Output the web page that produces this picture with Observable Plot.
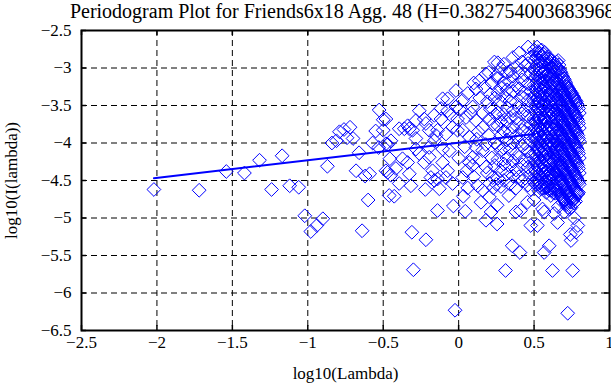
<!DOCTYPE html>
<html>
<head>
<meta charset="utf-8">
<script src="https://cdn.jsdelivr.net/npm/d3@7"></script>
<script src="https://cdn.jsdelivr.net/npm/@observablehq/plot@0.6"></script>
<style>
html, body { margin: 0; padding: 0; background: #fff; overflow: hidden; }
#chart { width: 611px; height: 385px; }
#chart svg, #chart svg text { font-family: "Liberation Serif", "Times New Roman", "DejaVu Serif", serif !important; }
</style>
</head>
<body>
<div id="chart"></div>
<script>
const titleText = "Periodogram Plot for Friends6x18 Agg. 48 (H=0.382754003683968)";
const xLabel = "log10(Lambda)";
const yLabel = "log10(I(lambda))";
const xTicks = [-2.5, -2, -1.5, -1, -0.5, 0, 0.5, 1];
const yTicks = [-6.5, -6, -5.5, -5, -4.5, -4, -3.5, -3, -2.5];

// Low-frequency points (read individually)
const lowX = [-2.02, -1.72, -1.54, -1.42, -1.32, -1.24, -1.17, -1.12, -1.06, -1.02, -0.98, -0.94, -0.90, -0.87, -0.84, -0.81, -0.79, -0.76, -0.74, -0.72, -0.70, -0.68, -0.66, -0.64, -0.62, -0.60, -0.59, -0.57, -0.55, -0.53, -0.50, -0.50, -0.47, -0.47, -0.46];
const lowY = [-4.62, -4.63, -4.38, -4.40, -4.23, -4.62, -4.17, -4.57, -4.59, -4.97, -5.18, -5.10, -5.01, -4.31, -4.00, -3.97, -3.85, -3.82, -3.93, -3.79, -3.94, -4.37, -4.13, -5.17, -4.44, -4.76, -4.41, -4.00, -3.84, -4.06, -3.69, -3.83, -4.02, -4.39, -4.70];

// Middle-frequency points (read individually)
const midX = [-0.527, -0.482, -0.482, -0.449, -0.456, -0.45, -0.427, -0.394, -0.372, -0.36, -0.327, -0.327, -0.316, -0.31, -0.30, -0.283, -0.283, -0.261, -0.261, -0.228, -0.221, -0.217, -0.195, -0.195, -0.184, -0.161, -0.14, -0.14, -0.14, -0.128, -0.117, -0.106, -0.106, -0.106, -0.084, -0.073, -0.073, -0.062, -0.04, -0.04, -0.035, -0.024, -0.018, -0.007,
  -0.394, -0.338, -0.305, -0.217, -0.195, -0.161, -0.117, -0.073, -0.051, -0.007, -0.018, -0.15, -0.283, -0.338, -0.228, -0.416, -0.482, -0.173, -0.084, -0.161,
  0.137, 0.181, 0.2, 0.237, 0.115, 0.06, 0.027, 0.093, 0.049, 0.115, 0.159, 0.204, 0.027, 0.071, 0.115, 0.159, 0.093, 0.071, 0.181, 0.226, 0.204, 0.159, 0.204, 0.027, 0.031, 0.044, 0.126, 0.148, 0.181, 0.215, 0.053, 0.093,
  0.17, 0.22, 0.24, 0.19, 0.14, 0.21, 0.16, 0.23, 0.13, 0.2, 0.24, 0.18, 0.22, 0.14, 0.1, 0.24, 0.005, 0.08, 0.04, 0.0, 0.12, 0.19, 0.23, 0.06, 0.25, 0.245, 0.21, 0.1];
const midY = [-3.56, -3.68, -4.01, -3.97, -4.21, -4.43, -4.71, -4.54, -4.21, -3.81, -3.81, -4.41, -4.57, -5.19, -5.69, -3.94, -3.70, -3.57, -4.14, -3.68, -4.62, -5.29, -4.19, -4.06, -4.46, -3.97, -3.83, -4.48, -4.90, -4.61, -3.68, -3.41, -4.08, -4.26, -3.88, -3.41, -4.37, -4.10, -3.79, -4.54, -4.84, -6.23, -3.30, -3.83,
  -3.81, -3.77, -3.83, -3.74, -3.83, -3.63, -3.54, -3.57, -3.63, -3.68, -3.52, -3.90, -4.08, -4.26, -4.26, -4.34, -4.37, -4.37, -4.46, -4.50,
  -3.17, -3.08, -3.06, -2.92, -3.28, -3.34, -3.43, -3.52, -3.66, -3.70, -3.79, -3.68, -3.83, -3.92, -4.06, -4.10, -4.19, -4.26, -4.32, -4.46, -4.54, -4.63, -4.72, -4.46, -4.71, -4.91, -4.57, -4.79, -5.03, -4.92, -4.37, -4.30,
  -3.25, -3.20, -3.40, -3.45, -3.40, -3.55, -3.60, -3.75, -3.85, -3.90, -4.00, -4.02, -4.20, -4.22, -4.45, -4.30, -3.55, -3.60, -4.05, -4.20, -3.95, -4.40, -4.60, -4.60, -3.10, -3.62, -3.35, -3.20];

// High-frequency band, read column by column
const bandX = [0.26, 0.28, 0.30, 0.32, 0.34, 0.36, 0.38, 0.40, 0.42, 0.44, 0.46, 0.48, 0.50, 0.51, 0.52, 0.53, 0.54, 0.55, 0.56, 0.57, 0.58, 0.59, 0.60, 0.61, 0.62, 0.63, 0.64, 0.65, 0.66, 0.67, 0.68, 0.69, 0.70, 0.71, 0.72, 0.73, 0.74, 0.75, 0.76, 0.77, 0.78, 0.79, 0.80];
const bandY = [
  [-2.93, -3.14, -3.33, -3.60, -3.77, -4.03, -4.22, -4.47],
  [-3.01, -3.26, -3.45, -3.71, -3.90, -4.10, -4.37, -4.58],
  [-2.95, -3.20, -3.38, -3.62, -3.84, -4.07, -4.28, -4.50],
  [-3.06, -3.29, -3.53, -3.72, -3.96, -4.20, -4.41],
  [-3.04, -3.18, -3.44, -3.66, -3.87, -4.09, -4.31, -4.55],
  [-2.86, -3.11, -3.31, -3.57, -3.79, -4.00, -4.24, -4.44],
  [-2.98, -3.23, -3.46, -3.67, -3.91, -4.14, -4.36, -4.60],
  [-2.80, -3.06, -3.28, -3.53, -3.74, -3.98, -4.19, -4.45],
  [-2.92, -3.16, -3.39, -3.61, -3.83, -4.04, -4.29, -4.51],
  [-2.97, -3.09, -3.33, -3.56, -3.78, -4.01, -4.23, -4.47],
  [-2.72, -2.94, -3.21, -3.43, -3.64, -3.87, -4.11, -4.32, -4.56],
  [-2.85, -3.07, -3.31, -3.51, -3.75, -3.97, -4.17, -4.41, -4.62],
  [-2.76, -3.01, -3.23, -3.44, -3.68, -3.89, -4.13, -4.34, -4.52],
  [-2.81, -3.04, -3.27, -3.49, -3.71, -3.93, -4.14, -4.37, -4.55],
  [-2.72, -2.97, -3.19, -3.41, -3.61, -3.84, -4.06, -4.27, -4.49],
  [-2.90, -3.13, -3.34, -3.54, -3.78, -3.99, -4.21, -4.43, -4.64],
  [-2.82, -3.05, -3.28, -3.47, -3.69, -3.91, -4.11, -4.34, -4.57],
  [-2.76, -2.99, -3.21, -3.42, -3.63, -3.83, -4.04, -4.26, -4.47],
  [-2.92, -3.15, -3.36, -3.56, -3.76, -3.97, -4.19, -4.41, -4.60],
  [-2.79, -3.03, -3.25, -3.45, -3.66, -3.87, -4.09, -4.30, -4.53],
  [-2.95, -3.17, -3.38, -3.59, -3.81, -4.02, -4.23, -4.44, -4.66],
  [-2.85, -3.08, -3.29, -3.50, -3.71, -3.93, -4.14, -4.36, -4.57],
  [-2.88, -3.11, -3.33, -3.55, -3.76, -3.97, -4.19, -4.42, -4.63],
  [-2.99, -3.22, -3.43, -3.64, -3.85, -4.06, -4.27, -4.48],
  [-2.90, -3.10, -3.31, -3.52, -3.72, -3.92, -4.13, -4.35, -4.56],
  [-2.98, -3.19, -3.40, -3.61, -3.81, -4.01, -4.21, -4.41, -4.62],
  [-3.05, -3.26, -3.46, -3.67, -3.87, -4.07, -4.26, -4.47, -4.67],
  [-2.92, -3.14, -3.35, -3.55, -3.75, -3.96, -4.16, -4.36, -4.58],
  [-2.90, -3.10, -3.30, -3.51, -3.71, -3.90, -4.11, -4.31, -4.53],
  [-3.02, -3.22, -3.42, -3.62, -3.83, -4.03, -4.23, -4.43, -4.64],
  [-3.07, -3.28, -3.48, -3.68, -3.88, -4.08, -4.29, -4.50, -4.71],
  [-3.12, -3.32, -3.52, -3.72, -3.93, -4.13, -4.33, -4.53, -4.74],
  [-3.15, -3.35, -3.55, -3.75, -3.95, -4.16, -4.36, -4.56, -4.76],
  [-3.20, -3.40, -3.60, -3.80, -4.00, -4.20, -4.41, -4.61, -4.80],
  [-3.25, -3.45, -3.65, -3.85, -4.05, -4.25, -4.45, -4.66],
  [-3.28, -3.48, -3.69, -3.89, -4.09, -4.29, -4.49, -4.69],
  [-3.31, -3.51, -3.71, -3.91, -4.11, -4.31, -4.51, -4.72],
  [-3.34, -3.54, -3.74, -3.94, -4.14, -4.34, -4.54, -4.74],
  [-3.38, -3.58, -3.78, -3.98, -4.18, -4.38, -4.58, -4.76],
  [-3.42, -3.62, -3.82, -4.02, -4.22, -4.42, -4.62, -4.73],
  [-3.45, -3.65, -3.86, -4.06, -4.26, -4.46, -4.66],
  [-3.50, -3.70, -3.90, -4.10, -4.30, -4.50, -4.68],
  [-3.60, -3.80, -3.98, -4.20, -4.40, -4.55]
];

// High-frequency band, second pass (in between the columns above)
const band2X = [0.505, 0.515, 0.525, 0.535, 0.545, 0.555, 0.565, 0.575, 0.585, 0.595, 0.605, 0.615, 0.625, 0.635, 0.645, 0.655, 0.665, 0.675, 0.685, 0.695, 0.705, 0.715, 0.725, 0.735, 0.745, 0.755, 0.765, 0.775, 0.785, 0.795];
const band2Y = [
  [-2.90, -3.13, -3.36, -3.58, -3.80, -4.02, -4.25, -4.46],
  [-2.86, -3.09, -3.30, -3.52, -3.74, -3.96, -4.18, -4.40],
  [-2.78, -3.02, -3.24, -3.46, -3.67, -3.89, -4.10, -4.32, -4.55],
  [-2.80, -3.00, -3.22, -3.44, -3.66, -3.87, -4.08, -4.30, -4.52],
  [-2.93, -3.16, -3.38, -3.58, -3.80, -4.00, -4.22, -4.44],
  [-2.86, -3.08, -3.30, -3.51, -3.72, -3.93, -4.15, -4.37, -4.55],
  [-2.82, -3.05, -3.26, -3.47, -3.68, -3.88, -4.09, -4.31, -4.52],
  [-2.90, -3.12, -3.33, -3.54, -3.75, -3.96, -4.17, -4.39, -4.60],
  [-2.88, -3.10, -3.31, -3.52, -3.73, -3.94, -4.16, -4.38, -4.59],
  [-2.96, -3.19, -3.40, -3.61, -3.82, -4.03, -4.24, -4.46],
  [-2.92, -3.13, -3.35, -3.56, -3.77, -3.99, -4.20, -4.40, -4.61],
  [-2.95, -3.16, -3.37, -3.58, -3.79, -4.00, -4.21, -4.42, -4.63],
  [-3.00, -3.21, -3.42, -3.62, -3.82, -4.03, -4.24, -4.45, -4.66],
  [-2.94, -3.15, -3.36, -3.56, -3.76, -3.97, -4.17, -4.38, -4.60],
  [-2.98, -3.18, -3.38, -3.58, -3.78, -3.98, -4.19, -4.40, -4.62],
  [-3.00, -3.20, -3.40, -3.61, -3.81, -4.01, -4.21, -4.42, -4.63],
  [-2.96, -3.17, -3.37, -3.57, -3.77, -3.97, -4.17, -4.37, -4.59],
  [-3.05, -3.25, -3.45, -3.65, -3.86, -4.06, -4.26, -4.47, -4.68],
  [-3.10, -3.30, -3.50, -3.70, -3.90, -4.10, -4.31, -4.51, -4.72],
  [-3.14, -3.34, -3.54, -3.74, -3.94, -4.14, -4.35, -4.55, -4.75],
  [-3.18, -3.38, -3.58, -3.78, -3.98, -4.18, -4.38, -4.58, -4.78],
  [-3.23, -3.43, -3.63, -3.83, -4.03, -4.23, -4.43, -4.63, -4.82],
  [-3.27, -3.47, -3.67, -3.87, -4.07, -4.27, -4.47, -4.67, -4.86],
  [-3.30, -3.50, -3.70, -3.90, -4.10, -4.30, -4.50, -4.70, -4.88],
  [-3.33, -3.53, -3.73, -3.93, -4.13, -4.33, -4.53, -4.73, -4.86],
  [-3.37, -3.57, -3.77, -3.97, -4.17, -4.37, -4.57, -4.77],
  [-3.40, -3.60, -3.80, -4.00, -4.20, -4.40, -4.60, -4.80],
  [-3.44, -3.64, -3.84, -4.04, -4.24, -4.44, -4.64, -4.78],
  [-3.48, -3.68, -3.88, -4.08, -4.28, -4.48, -4.66],
  [-3.54, -3.74, -3.94, -4.14, -4.34, -4.52, -4.66]
];

// High-frequency low outliers
const outX = [0.255, 0.255, 0.311, 0.355, 0.406, 0.38, 0.41, 0.456, 0.478, 0.333, 0.5, 0.522, 0.556, 0.567, 0.634, 0.656, 0.7, 0.69, 0.745, 0.611, 0.545, 0.723, 0.567, 0.6, 0.622, 0.756, 0.723, 0.745, 0.74, 0.778, 0.79, 0.767, 0.62, 0.66, 0.25];
const outY = [-4.83, -5.08, -5.70, -5.37, -5.46, -4.92, -4.90, -4.79, -5.10, -4.70, -4.76, -5.10, -4.88, -4.92, -4.94, -5.06, -4.92, -4.79, -4.79, -4.70, -4.61, -4.70, -5.46, -5.37, -5.70, -5.70, -6.27, -5.30, -5.22, -5.19, -5.10, -5.00, -4.60, -4.85, -4.55];

// Least-squares fit line (slope = 1 - 2H)
const fitX = [-2.02, 0.5];
const fitY = [-4.47, -3.88];

const points = [];
lowX.forEach((x, i) => points.push({x, y: lowY[i]}));
midX.forEach((x, i) => points.push({x, y: midY[i]}));
bandX.forEach((x, i) => bandY[i].forEach(y => points.push({x, y})));
band2X.forEach((x, i) => band2Y[i].forEach(y => points.push({x, y})));
outX.forEach((x, i) => points.push({x, y: outY[i]}));
const fit = fitX.map((x, i) => ({x, y: fitY[i]}));

const W = 611, H = 385, mL = 81, mR = 2, mT = 30, mB = 55;
const innerW = W - mL - mR, innerH = H - mT - mB;
const tick = 5;
const serif = "Liberation Serif";
const fmt = d => String(d).replace("-", "\u2212");

const chart = Plot.plot({
  width: W, height: H,
  marginLeft: mL, marginRight: mR, marginTop: mT, marginBottom: mB,
  x: {domain: [-2.5, 1]},
  y: {domain: [-6.5, -2.5]},
  style: {fontFamily: serif, fontSize: "17px", background: "#ffffff", color: "#000000", overflow: "visible"},
  marks: [
    Plot.gridX(xTicks, {stroke: "#000", strokeOpacity: 1, strokeWidth: 1, strokeDasharray: "6,4"}),
    Plot.gridY(yTicks, {stroke: "#000", strokeOpacity: 1, strokeWidth: 1, strokeDasharray: "6,4"}),
    Plot.dot(points, {x: "x", y: "y", symbol: "diamond2", r: 6.2, stroke: "#0000ff", strokeWidth: 1, fill: "none"}),
    Plot.line(fit, {x: "x", y: "y", stroke: "#0000ff", strokeWidth: 2}),
    Plot.ruleX(xTicks, {x: d => d, y1: -2.5, y2: -6.5, insetTop: innerH - tick, stroke: "#000", strokeWidth: 1.5}),
    Plot.ruleX(xTicks, {x: d => d, y1: -2.5, y2: -6.5, insetBottom: innerH - tick, stroke: "#000", strokeWidth: 1.5}),
    Plot.ruleY(yTicks, {y: d => d, x1: -2.5, x2: 1, insetRight: innerW - tick, stroke: "#000", strokeWidth: 1.5}),
    Plot.ruleY(yTicks, {y: d => d, x1: -2.5, x2: 1, insetLeft: innerW - tick, stroke: "#000", strokeWidth: 1.5}),
    Plot.frame({stroke: "#000", strokeWidth: 2}),
    Plot.axisX(xTicks, {tickSize: 0, tickPadding: 5, tickFormat: fmt, fontSize: 17, fontFamily: serif, label: xLabel, labelAnchor: "center", labelArrow: "none", labelOffset: 48}),
    Plot.axisY(yTicks, {tickSize: 0, tickPadding: 10, tickFormat: fmt, fontSize: 17, fontFamily: serif, label: yLabel, labelAnchor: "center", labelArrow: "none", labelOffset: 77}),
    Plot.text([titleText], {text: d => d, frameAnchor: "top", dy: -19, lineAnchor: "middle", fontSize: 20, fontFamily: serif})
  ]
});
document.getElementById("chart").appendChild(chart);
</script>
</body>
</html>
